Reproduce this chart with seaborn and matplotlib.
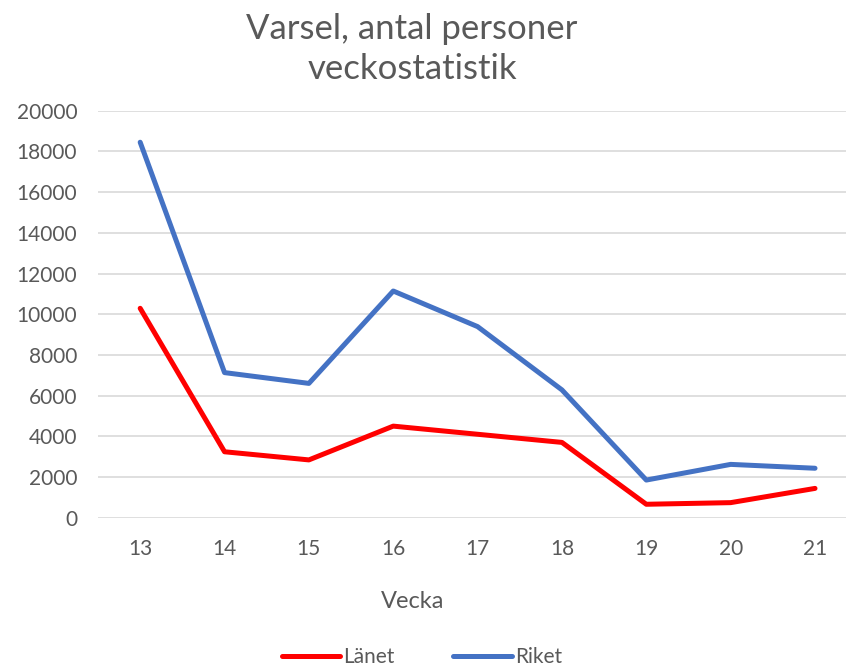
import pandas as pd
import matplotlib.pyplot as plt
import seaborn as sns

# Data
veckor = [13, 14, 15, 16, 17, 18, 19, 20, 21]
lanet = [10290, 3240, 2840, 4500, 4100, 3700, 660, 740, 1440]
riket = [18450, 7130, 6600, 11140, 9390, 6280, 1850, 2620, 2430]

df = pd.DataFrame({
    'Vecka': veckor * 2,
    'Antal': lanet + riket,
    'Serie': ['Länet'] * len(veckor) + ['Riket'] * len(veckor),
})

sns.set_style('white')
plt.rcParams['font.family'] = ['Lato', 'DejaVu Sans']
text_color = '#595959'

fig = plt.figure(figsize=(8.46, 6.68), dpi=100)
ax = fig.add_axes([98 / 846, 1 - 517.7 / 668, (846 - 98) / 846, 407 / 668])

sns.lineplot(data=df, x='Vecka', y='Antal', hue='Serie',
             palette={'Länet': '#FF0000', 'Riket': '#4472C4'},
             linewidth=3.6, ax=ax, legend=False,
             solid_capstyle='round', solid_joinstyle='round')

ax.set_xlim(12.5, 21 + 31 / 84.4)
ax.set_ylim(0, 20000)
ax.set_yticks(range(0, 20001, 2000))
ax.set_xticks(veckor)
ax.yaxis.grid(True, color='#D9D9D9', linewidth=1.2)
ax.set_axisbelow(True)
for s in ax.spines.values():
    s.set_visible(False)
ax.tick_params(axis='both', length=0, labelsize=15, colors=text_color)
ax.tick_params(axis='y', pad=15)
ax.tick_params(axis='x', pad=15)
ax.set_ylabel('')
ax.set_xlabel('Vecka', fontsize=17, color=text_color)
# centre the axis title on the visible plot area like the original
ax.xaxis.set_label_coords((413 - 98) / (846 - 98), -(601 - 517.7) / 407, transform=ax.transAxes)
ax.xaxis.label.set_va('center')

fig.text(412 / 846, 1 - 49 / 668, 'Varsel, antal personer\nveckostatistik',
         ha='center', va='center', fontsize=25, color=text_color, linespacing=1.32)

handles = [plt.Line2D([], [], color='#FF0000', lw=3.6, solid_capstyle='round'),
           plt.Line2D([], [], color='#4472C4', lw=3.6, solid_capstyle='round')]
fig.legend(handles, ['Länet', 'Riket'], loc='center', bbox_to_anchor=(422 / 846, 1 - 657 / 668),
           ncol=2, frameon=False, fontsize=15, labelcolor=text_color,
           handlelength=2.8, handletextpad=0.15, columnspacing=2.8)

fig.savefig('out.png', dpi=100)
